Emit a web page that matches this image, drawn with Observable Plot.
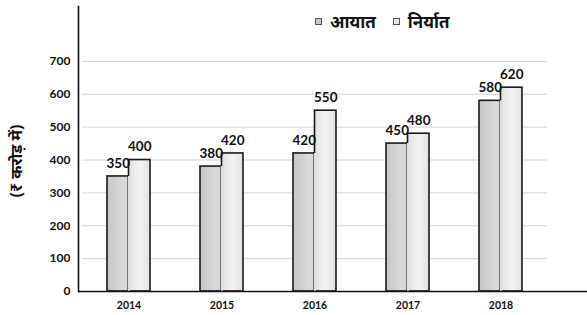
<!DOCTYPE html>
<html><head><meta charset="utf-8">
<script src="https://cdn.jsdelivr.net/npm/d3@7"></script>
<script src="https://cdn.jsdelivr.net/npm/@observablehq/plot@0.6"></script>
<style>
body{margin:0;background:#fff;}
#wrap{position:relative;width:587px;height:315px;}
#legend{position:absolute;left:315px;top:10px;font:bold 17px "Noto Sans","Noto Sans Devanagari",sans-serif;display:flex;align-items:center;color:#111;white-space:nowrap;}
#legend .sw{display:inline-block;width:5px;height:5px;border:1.5px solid #555;background:#ccc;margin-right:8px;}
#legend .item{display:flex;align-items:center;margin-right:17px;}
#ylab{position:absolute;left:16px;top:161px;transform:translate(-50%,-50%) rotate(-90deg);font:bold 16px "Noto Sans","Noto Sans Devanagari",sans-serif;white-space:nowrap;color:#111;}
</style></head>
<body><div id="wrap"><div id="legend"></div><div id="ylab"></div></div>
<script>
const years = ["2014", "2015", "2016", "2017", "2018"];
const imports = [350, 380, 420, 450, 580];
const exportsV = [400, 420, 550, 480, 620];
const yTicks = [0, 100, 200, 300, 400, 500, 600, 700];
const seriesNames = ["आयात", "निर्यात"];
const yLabel = "(₹ करोड़ में)";

const table = years.map((y, i) => ({year: y, imp: imports[i], exp: exportsV[i]}));
const half = 21.5;
const stroke = "#1a1a1a";
const sw = 1.6;

const chart = Plot.plot({
  width: 587, height: 315,
  marginLeft: 78, marginRight: 0, marginTop: 6, marginBottom: 24,
  style: {fontFamily: "Lato, sans-serif", fontWeight: "bold", color: "#111", background: "#fff"},
  x: {domain: years, range: [81.5, 546.5], paddingInner: 0.538, paddingOuter: 0.269, label: null},
  y: {domain: [0, 867], label: null},
  marks: [
    Plot.ruleY(yTicks.filter(d => d > 0), {stroke: "#d4d4d4", strokeWidth: 1, insetLeft: 4, insetRight: 40}),
    Plot.barY(table, {x: "year", y: "imp", fill: "url(#gImp)", insetRight: half, stroke, strokeWidth: sw}),
    Plot.barY(table, {x: "year", y: "exp", fill: "url(#gExp)", insetLeft: half, stroke, strokeWidth: sw}),
    Plot.ruleX(table, {x: "year", y1: 0, y2: "imp", insetTop: 1, stroke: "#dedede", strokeWidth: 2}),
    Plot.text(table, {x: "year", y: "imp", text: "imp", dx: -half / 2, dy: -13, fontSize: 13.5, fontWeight: "bold", fill: "#111"}),
    Plot.text(table, {x: "year", y: "exp", text: "exp", dx: half / 2, dy: -13, fontSize: 13.5, fontWeight: "bold", fill: "#111"}),
    Plot.axisY({ticks: yTicks, tickSize: 0, tickPadding: 8, fontSize: 12, fontWeight: "bold", label: null}),
    Plot.axisX({tickSize: 0, tickPadding: 10, fontSize: 10.5, fontWeight: "bold", label: null}),
    Plot.frame({anchor: "left", stroke: "#111", strokeWidth: 1.6}),
    Plot.ruleY([0], {stroke: "#111", strokeWidth: 1.6})
  ]
});

const svg = d3.select(chart);
const defs = svg.insert("defs", ":first-child");
function grad(id, stops) {
  const g = defs.append("linearGradient").attr("id", id).attr("x1", "0").attr("x2", "1").attr("y1", "0").attr("y2", "0");
  stops.forEach(([o, c]) => g.append("stop").attr("offset", o).attr("stop-color", c));
}
grad("gImp", [[0, "#c6c6c6"], [0.4, "#d0d0d0"], [0.75, "#dadada"], [1, "#d6d6d6"]]);
grad("gExp", [[0, "#dedede"], [0.3, "#ececec"], [0.55, "#f3f3f3"], [1, "#e0e0e0"]]);

document.getElementById("wrap").prepend(chart);
const lg = document.getElementById("legend");
seriesNames.forEach((n, i) => {
  const it = document.createElement("span"); it.className = "item";
  const s = document.createElement("span"); s.className = "sw";
  s.style.background = i === 0 ? "#c8c8c8" : "#e6e6e6";
  it.appendChild(s); it.appendChild(document.createTextNode(n));
  lg.appendChild(it);
});
document.getElementById("ylab").textContent = yLabel;
</script></body></html>
